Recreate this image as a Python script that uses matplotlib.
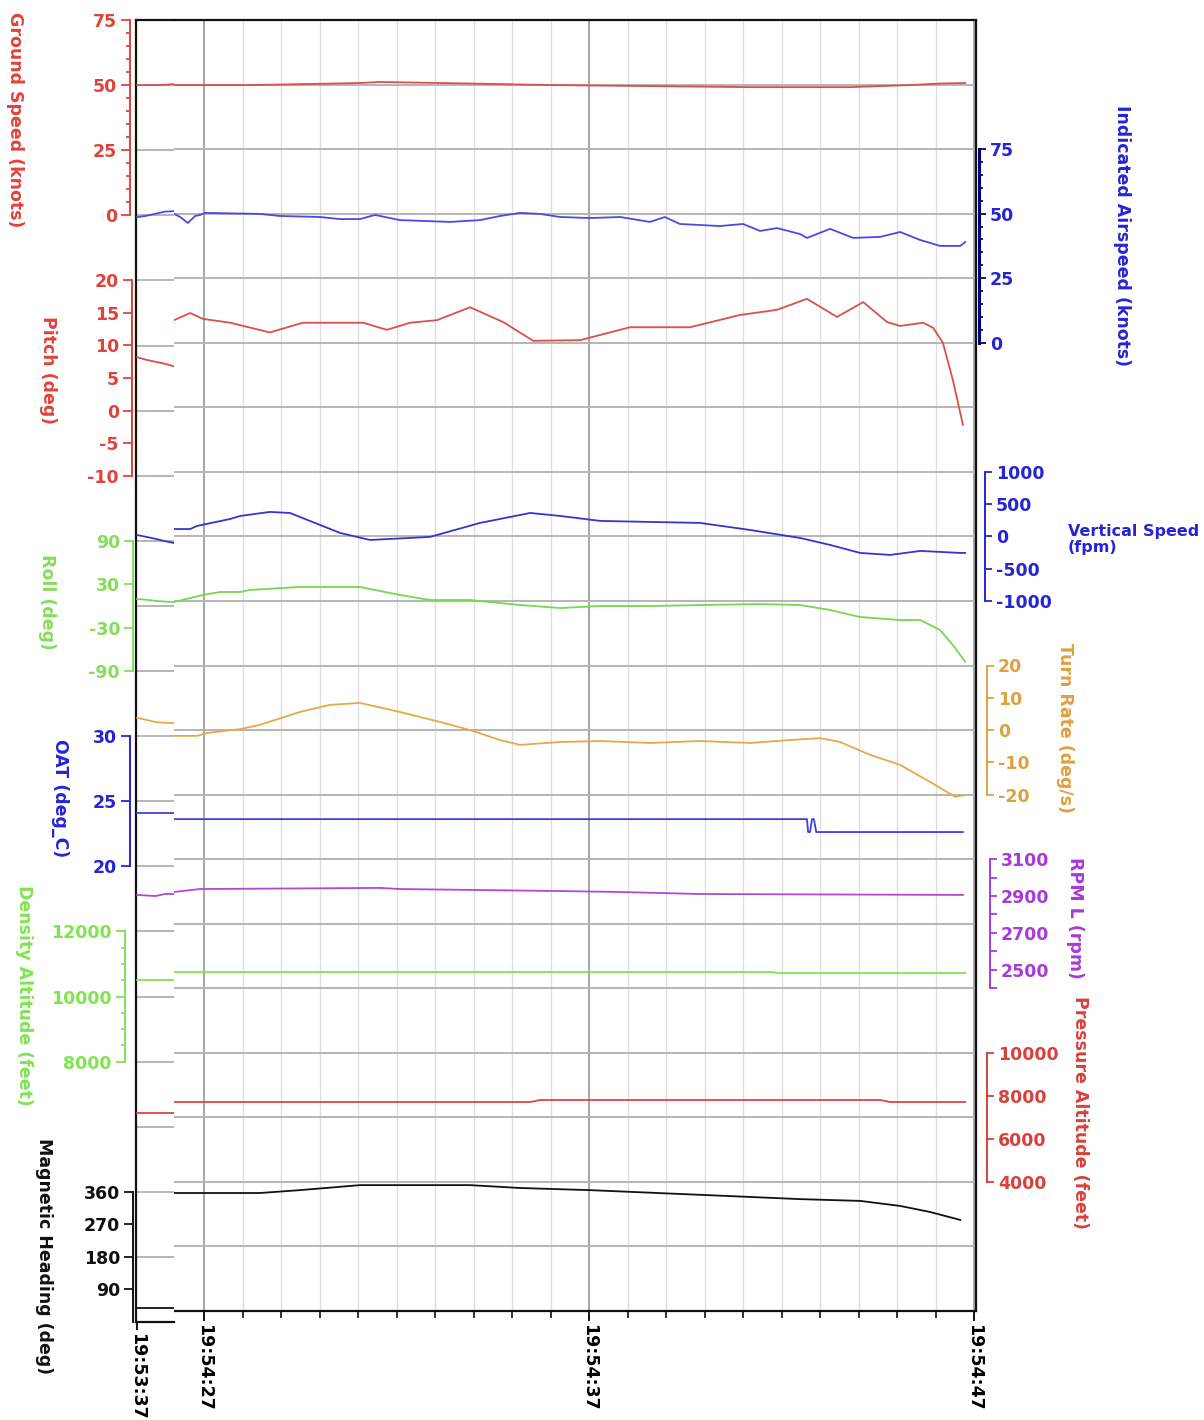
import matplotlib
matplotlib.use("Agg")
import matplotlib.pyplot as plt
from matplotlib.ticker import FixedLocator, MultipleLocator, FuncFormatter, NullFormatter

plt.rcParams['font.family'] = ['DejaVu Sans']
plt.rcParams['font.weight'] = 'bold'

W, H, DPI = 1204, 1420, 100
PT = 72.0 / DPI          # points per pixel
N_ROWS = 20              # horizontal grid bands of the strip chart

# ---------------------------------------------------------------------------
# Flight log (times in seconds relative to 19:54:00)
# ---------------------------------------------------------------------------
# short segment shown before the gap (19:53:37)
pre_time = [-23.0, -22.75, -22.5, -22.25, -22.0]
pre_ground_speed = [50.0, 50.0, 50.0, 50.1, 50.4]
pre_airspeed = [49.3, 49.8, 50.6, 51.4, 51.6]
pre_pitch = [8.2, 7.8, 7.5, 7.2, 6.8]
pre_vspeed = [89, 60, 30, -5, -34]
pre_roll = [9.5, 8.5, 7.0, 6.0, 5.4]
pre_turn = [5.6, 5.0, 4.3, 4.1, 4.0]
pre_oat = [24.1, 24.1, 24.1, 24.1, 24.1]
pre_rpm = [2946, 2943, 2940, 2951, 2951]
pre_density_alt = [10507, 10507, 10507, 10507, 10507]
pre_pressure_alt = [7631, 7631, 7631, 7631, 7631]
pre_heading = [39, 39, 39, 39, 39]

# main segment 19:54:26 - 19:54:47
gs_time = [26.22, 28.19, 28.97, 31.05, 31.57, 33.13, 33.91, 35.99, 37.29, 38.58,
           39.88, 41.18, 43.78, 44.56, 45.34, 46.12, 46.77]
ground_speed = [49.8, 49.8, 50.0, 50.6, 51.0, 50.6, 50.4, 49.8, 49.6, 49.4,
                49.2, 49.0, 49.0, 49.4, 49.8, 50.4, 50.6]

ias_time = [26.22, 26.38, 26.58, 26.77, 26.90, 27.03, 28.45, 28.97, 30.01, 30.53,
            31.05, 31.44, 31.70, 32.09, 33.39, 34.17, 34.69, 35.21, 35.73, 36.25,
            37.03, 37.81, 38.58, 38.97, 39.36, 40.40, 41.00, 41.44, 41.88, 42.48,
            42.66, 43.26, 43.86, 44.56, 45.08, 45.60, 46.12, 46.64, 46.77]
airspeed = [49.9, 48.7, 46.4, 49.1, 49.5, 50.3, 49.9, 49.1, 48.7, 47.9,
            47.9, 49.5, 48.7, 47.5, 46.8, 47.5, 49.1, 50.3, 49.9, 48.7,
            48.3, 48.7, 46.8, 48.7, 46.0, 45.2, 46.0, 43.3, 44.4, 42.1,
            40.6, 44.1, 40.6, 41.0, 42.9, 39.8, 37.5, 37.5, 39.0]

pitch_time = [26.22, 26.64, 26.97, 27.68, 28.71, 29.57, 31.13, 31.75, 32.35, 33.05,
              33.91, 34.77, 35.55, 36.77, 38.06, 39.62, 40.92, 41.88, 42.66, 43.44,
              44.12, 44.74, 45.08, 45.68, 45.94, 46.19, 46.45, 46.71]
pitch = [13.5, 14.6, 13.7, 13.1, 11.6, 13.1, 13.1, 12.0, 13.1, 13.5,
         15.5, 13.2, 10.3, 10.4, 12.4, 12.4, 14.3, 15.1, 16.8, 14.0,
         16.3, 13.2, 12.6, 13.1, 12.3, 10.0, 4.2, -2.7]

vs_time = [26.22, 26.64, 26.82, 27.68, 27.94, 28.71, 29.23, 30.01, 30.53, 31.31,
           32.87, 34.17, 35.47, 36.25, 37.29, 38.58, 39.88, 41.18, 42.48, 43.26,
           44.04, 44.82, 45.60, 46.64, 46.77]
vertical_speed = [114, 114, 162, 270, 317, 379, 363, 178, 54, -55,
                  -8, 209, 363, 317, 240, 224, 209, 100, -24, -132,
                  -256, -287, -225, -256, -256]

roll_time = [26.22, 26.97, 27.42, 27.94, 28.19, 29.49, 31.05, 32.09, 32.87, 33.91,
             35.21, 36.25, 37.29, 38.58, 39.88, 41.44, 42.48, 43.26, 44.04, 45.08,
             45.60, 46.12, 46.51, 46.77]
roll = [-1.5, 8.3, 12.5, 12.5, 15.3, 19.5, 19.5, 8.3, 1.3, 1.3,
        -5.7, -9.9, -7.1, -7.1, -5.7, -4.3, -5.7, -12.6, -22.4, -26.6,
        -26.6, -40.5, -65.6, -85.1]

turn_time = [26.22, 26.82, 27.08, 27.94, 28.45, 29.49, 30.27, 31.05, 32.09, 33.13,
             33.91, 34.69, 35.21, 36.25, 37.29, 38.58, 39.88, 41.18, 42.22, 43.00,
             43.52, 44.30, 45.08, 45.86, 46.51, 46.77]
turn_rate = [-1.8, -1.8, -0.9, 0.3, 1.6, 5.6, 7.8, 8.4, 5.6, 2.5,
             0.0, -3.1, -4.6, -3.7, -3.4, -4.0, -3.4, -4.0, -3.1, -2.5,
             -3.7, -7.7, -10.8, -16.1, -20.7, -20.1]

oat_time = [26.22, 42.66, 42.69, 42.74, 42.79, 42.84, 42.90, 46.71]
oat = [23.1, 23.1, 22.1, 22.1, 23.1, 23.1, 22.1, 22.1]

rpm_time = [26.22, 26.90, 31.57, 32.09, 36.25, 37.81, 39.88, 46.71]
rpm = [2922, 2938, 2944, 2938, 2927, 2922, 2911, 2906]

dens_time = [26.22, 41.70, 41.96, 46.77]
density_alt = [10504, 10504, 10473, 10473]

press_time = [26.22, 35.47, 35.73, 44.56, 44.82, 46.77]
pressure_alt = [7713, 7713, 7806, 7806, 7713, 7713]

hdg_time = [26.22, 28.45, 29.49, 31.05, 33.91, 35.21, 37.03, 39.88, 42.48, 44.04,
            45.08, 45.86, 46.64]
heading = [329, 329, 337, 351, 351, 343, 337, 324, 312, 307,
           293, 276, 254]

# ---------------------------------------------------------------------------
# Channel styling: each channel occupies a band of grid rows
# scale = (value, row, value, row) fixes the linear mapping onto the rows
# ---------------------------------------------------------------------------
RED_T, RED_L = '#e0433b', '#d9504a'
channels = [
    dict(label='Ground Speed (knots)', side='left', pre=pre_ground_speed, t=gs_time, v=ground_speed,
         line=RED_L, text=RED_T, spine=RED_T, scale=(75, 0, 0, 3), bounds=(0, 75),
         major=[0, 25, 50, 75], minor=5, offset=6, lab=(15, 120)),
    dict(label='Indicated Airspeed (knots)', side='right', pre=pre_airspeed, t=ias_time, v=airspeed,
         line='#4a4ae6', text='#2525d5', spine='#00007a', scale=(75, 2, 0, 5), bounds=(0, 75),
         major=[0, 25, 50, 75], minor=5, offset=3, lab=(1122, 236), spine_w=2.2),
    dict(label='Pitch (deg)', side='left', pre=pre_pitch, t=pitch_time, v=pitch,
         line=RED_L, text=RED_T, spine=RED_T, scale=(20, 4, -10, 7), bounds=(-10, 20),
         major=[-10, -5, 0, 5, 10, 15, 20], minor=None, offset=4, lab=(48, 370)),
    dict(label='Vertical Speed\n(fpm)', side='right', pre=pre_vspeed, t=vs_time, v=vertical_speed,
         line='#3535d2', text='#2525d5', spine='#2525d5', scale=(1000, 7, -1000, 9), bounds=(-1000, 1000),
         major=[-1000, -500, 0, 500, 1000], minor=None, offset=9, lab=(1068, 524), horizontal=True),
    dict(label='Roll (deg)', side='left', pre=pre_roll, t=roll_time, v=roll,
         line='#77d652', text='#86dd5a', spine='#86dd5a', scale=(90, 8, -90, 10), bounds=(-90, 90),
         major=[-90, -30, 30, 90], minor=60, offset=3, lab=(47, 602), minor_len=9),
    dict(label='Turn Rate (deg/s)', side='right', pre=pre_turn, t=turn_time, v=turn_rate,
         line='#e8a848', text='#e0a040', spine='#e0a040', scale=(20, 10, -20, 12), bounds=(-20, 20),
         major=[-20, -10, 0, 10, 20], minor=None, offset=11, lab=(1065, 728)),
    dict(label='OAT (deg_C)', side='left', pre=pre_oat, t=oat_time, v=oat,
         line='#3f3fe0', text='#2525d5', spine='#2525d5', scale=(30, 11, 20, 13), bounds=(20, 30),
         major=[20, 25, 30], minor=None, offset=6, lab=(60, 798)),
    dict(label='RPM L (rpm)', side='right', pre=pre_rpm, t=rpm_time, v=rpm,
         line='#b348d5', text='#a83ad8', spine='#a83ad8', scale=(3100, 13, 2400, 15), bounds=(2400, 3100),
         major=[2500, 2700, 2900, 3100], minor=100, offset=14, lab=(1075, 918), minor_len=7),
    dict(label='Density Altitude (feet)', side='left', pre=pre_density_alt, t=dens_time, v=density_alt,
         line='#80e450', text='#80e450', spine='#80e450', scale=(12000, 14, 8000, 16), bounds=(8000, 12000),
         major=[8000, 10000, 12000], minor=500, offset=11, lab=(24, 995)),
    dict(label='Pressure Altitude (feet)', side='right', pre=pre_pressure_alt, t=press_time, v=pressure_alt,
         line='#d9473e', text='#d8413a', spine='#d8413a', scale=(10000, 16, 4000, 18), bounds=(4000, 10000),
         major=[4000, 6000, 8000, 10000], minor=None, offset=11, lab=(1080, 1113)),
    dict(label='Magnetic Heading (deg)', side='left', pre=pre_heading, t=hdg_time, v=heading,
         line='#111111', text='#111111', spine='#111111', scale=(360, 18, 0, 20), bounds=(0, 360),
         major=[90, 180, 270, 360], minor=None, offset=3, lab=(44, 1256)),
]


def ylim_from_scale(scale):
    va, ra, vb, rb = scale
    step = (vb - va) / (rb - ra)
    return va + (N_ROWS - ra) * step, va - ra * step


def clock(s, _pos=None):
    total = int(round(19 * 3600 + 54 * 60 + s))
    return f"{total // 3600}:{total % 3600 // 60:02d}:{total % 60:02d}"


def px_rect(left, top, right, bottom):
    return [left / W, 1 - bottom / H, (right - left) / W, (bottom - top) / H]


fig = plt.figure(figsize=(W / DPI, H / DPI), dpi=DPI)
ax_main = fig.add_axes(px_rect(174, 20, 976, 1311))
ax_pre = fig.add_axes(px_rect(136, 20, 174, 1322))

for ax in (ax_main, ax_pre):
    ax.set_ylim(N_ROWS, 0)
    ax.set_yticks(range(1, N_ROWS))
    ax.tick_params(axis='y', length=0, labelleft=False)
    ax.grid(axis='y', color='#b5b5b5', lw=1.4)
    ax.set_axisbelow(True)
    for sp in ax.spines.values():
        sp.set_color('#111111')
        sp.set_linewidth(1.6)

# main time axis
ax_main.set_xlim(26.22, 47.05)
ax_main.spines['left'].set_visible(False)
ax_main.xaxis.set_major_locator(FixedLocator([27, 37, 47]))
ax_main.xaxis.set_major_formatter(FuncFormatter(clock))
ax_main.xaxis.set_minor_locator(MultipleLocator(1))
ax_main.tick_params(axis='x', which='major', direction='out', length=10 * PT, width=1.4,
                    color='#111111', labelsize=12.5, pad=2, labelrotation=-90)
ax_main.tick_params(axis='x', which='minor', direction='out', length=7 * PT, width=1.2,
                    color='#111111')
ax_main.grid(axis='x', which='minor', color='#dedede', lw=1.0)
ax_main.grid(axis='x', which='major', color='#a5a5a5', lw=1.4)

# short segment before the gap
ax_pre.set_xlim(-23.03, -22.0)
ax_pre.spines['right'].set_visible(False)
ax_pre.xaxis.set_major_locator(FixedLocator([-23]))
ax_pre.xaxis.set_major_formatter(FuncFormatter(clock))
ax_pre.tick_params(axis='x', direction='out', length=8 * PT, width=1.4, color='#111111',
                   labelsize=12.5, pad=2, labelrotation=-90)


def style_axis(tw, ch, side):
    lo, hi = ch['bounds']
    tw.yaxis.set_ticks_position(side)
    sp = tw.spines[side]
    sp.set_visible(True)
    sp.set_position(('outward', ch['offset'] * PT))
    sp.set_bounds(lo, hi)
    sp.set_color(ch['spine'])
    sp.set_linewidth(ch.get('spine_w', 1.4))
    tw.yaxis.set_major_locator(FixedLocator(ch['major']))
    tw.yaxis.set_major_formatter(FuncFormatter(lambda v, _p: f"{v:g}"))
    step = ch.get('minor')
    if step:
        # minor ticks only along the drawn stretch of the scale
        n = int(round((hi - lo) / step))
        minors = [lo + k * step for k in range(n + 1)]
        minors = [m for m in minors if m not in ch['major']]
        tw.yaxis.set_minor_locator(FixedLocator(minors))
    tw.yaxis.set_minor_formatter(NullFormatter())
    major_len = 9 if side == 'left' else 7
    kw = dict(direction='out', color=ch['spine'], width=1.3)
    tw.tick_params(axis='y', which='major', length=major_len * PT, labelcolor=ch['text'],
                   labelsize=12.5, pad=4 * PT, **kw)
    tw.tick_params(axis='y', which='minor', length=ch.get('minor_len', 4) * PT, **kw)
    if side == 'left':
        tw.tick_params(axis='y', which='both', left=True, right=False,
                       labelleft=True, labelright=False)
    else:
        tw.tick_params(axis='y', which='both', left=False, right=True,
                       labelleft=False, labelright=True)


for ch in channels:
    ylim = ylim_from_scale(ch['scale'])
    for base, times, values in ((ax_pre, pre_time, ch['pre']), (ax_main, ch['t'], ch['v'])):
        tw = base.twinx()
        tw.set_ylim(*ylim)
        tw.plot(times, values, color=ch['line'], lw=1.3, solid_joinstyle='round')
        for sp in tw.spines.values():
            sp.set_visible(False)
        owner = ax_pre if ch['side'] == 'left' else ax_main
        if base is owner:
            style_axis(tw, ch, ch['side'])
        else:
            tw.yaxis.set_visible(False)

    lx, ly = ch['lab']
    if ch.get('horizontal'):
        fig.text(lx / W, 1 - ly / H, ch['label'], color=ch['text'], fontsize=11.5,
                 ha='left', va='top', linespacing=1.1)
    else:
        fig.text(lx / W, 1 - ly / H, ch['label'], color=ch['text'], fontsize=12.5,
                 ha='center', va='center', rotation=-90)

fig.savefig('out.png', dpi=DPI)
